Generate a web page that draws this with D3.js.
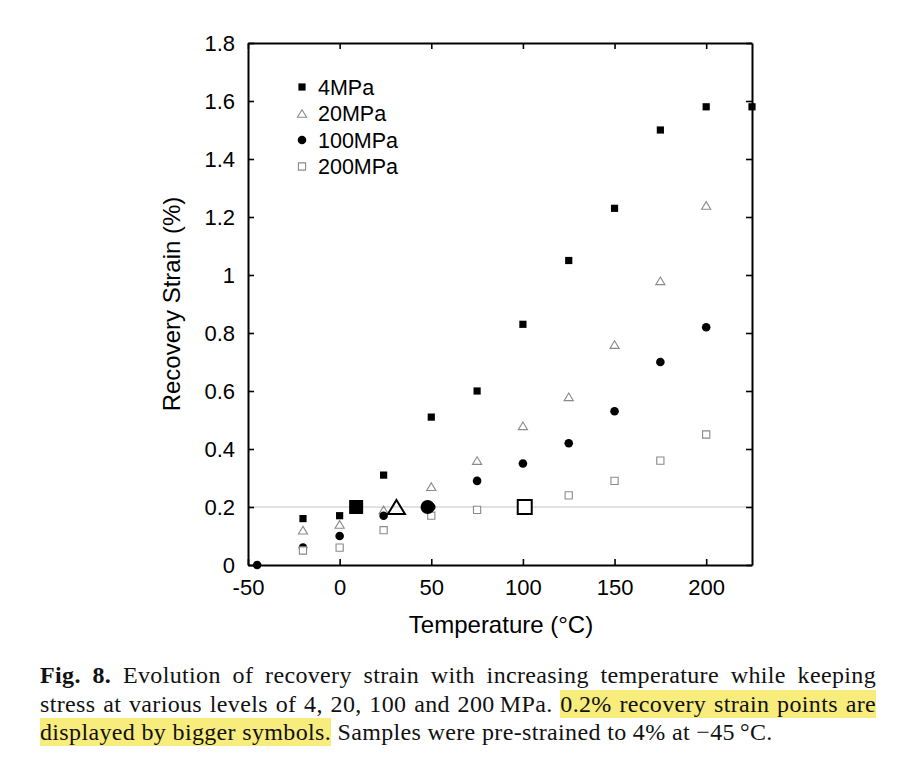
<!DOCTYPE html>
<html>
<head>
<meta charset="utf-8">
<script src="https://cdn.jsdelivr.net/npm/d3@7"></script>
<style>
  body { margin: 0; background: #fff; }
  #chart { position: absolute; left: 0; top: 0; }
  .caption {
    position: absolute;
    left: 40px;
    width: 836px;
    font-family: "Liberation Serif", "Times New Roman", serif;
    font-size: 24px;
    letter-spacing: 0.35px;
    line-height: 26px;
    color: #111;
    white-space: nowrap;
    text-align: justify;
    text-align-last: justify;
  }
  .caption.last { text-align-last: left; }
  .hl { background: #f7ec7c; padding: 1px 0; }
</style>
</head>
<body>
<div id="chart"></div>
<script>
// temperature (°C) and recovery strain (%) for each stress level
const temps4 = [-20, 0, 24, 50, 75, 100, 125, 150, 175, 200, 225];
const strain4 = [0.16, 0.17, 0.31, 0.51, 0.6, 0.83, 1.05, 1.23, 1.5, 1.58, 1.58];

const temps20 = [-20, 0, 24, 50, 75, 100, 125, 150, 175, 200];
const strain20 = [0.12, 0.14, 0.19, 0.27, 0.36, 0.48, 0.58, 0.76, 0.98, 1.24];

const temps100 = [-45, -20, 0, 24, 50, 75, 100, 125, 150, 175, 200];
const strain100 = [0, 0.06, 0.1, 0.17, 0.2, 0.29, 0.35, 0.42, 0.53, 0.7, 0.82];

const temps200 = [-20, 0, 24, 50, 75, 100, 125, 150, 175, 200];
const strain200 = [0.05, 0.06, 0.12, 0.17, 0.19, 0.2, 0.24, 0.29, 0.36, 0.45];

// 0.2% recovery strain points (bigger symbols), one per stress level
const bigTemps = [9, 31, 48, 101];
const bigStrain = [0.2, 0.2, 0.2, 0.2];

const seriesNames = ["4MPa", "20MPa", "100MPa", "200MPa"];
const xTicks = [-50, 0, 50, 100, 150, 200];
const yTicks = [0, 0.2, 0.4, 0.6, 0.8, 1, 1.2, 1.4, 1.6, 1.8];
const refStrain = 0.2;

const width = 902;
const height = 784;
const plot = { left: 248, right: 752, top: 43, bottom: 565 };
const font = '"Liberation Sans", Arial, sans-serif';

const series = [
  { name: seriesNames[0], t: temps4, s: strain4, shape: "square", fill: "#000", stroke: "none" },
  { name: seriesNames[1], t: temps20, s: strain20, shape: "triangle", fill: "none", stroke: "#8a8a8a" },
  { name: seriesNames[2], t: temps100, s: strain100, shape: "circle", fill: "#000", stroke: "none" },
  { name: seriesNames[3], t: temps200, s: strain200, shape: "square", fill: "#fff", stroke: "#8a8a8a" },
];

// marker path centered on 0,0; r is half the size
function markerPath(shape, r) {
  if (shape === "square") {
    return `M${-r},${-r}H${r}V${r}H${-r}Z`;
  }
  if (shape === "triangle") {
    let w = r * 1.15;
    let h = r * 0.95;
    return `M0,${-h}L${w},${h}L${-w},${h}Z`;
  }
  let p = d3.path();
  p.moveTo(r, 0);
  p.arc(0, 0, r, 0, 2 * Math.PI);
  p.closePath();
  return p.toString();
}

const smallSize = (shape) => (shape === "circle" ? 4.3 : shape === "triangle" ? 4 : 3.6);

const x = d3.scaleLinear().domain([-50, 225]).range([plot.left, plot.right]);
const y = d3.scaleLinear().domain([0, 1.8]).range([plot.bottom, plot.top]);

const svg = d3
  .select("#chart")
  .append("svg")
  .attr("width", width)
  .attr("height", height)
  .style("font-family", font);

svg.append("rect").attr("width", width).attr("height", height).attr("fill", "#fff");

// reference line at 0.2%
svg
  .append("line")
  .attr("x1", plot.left)
  .attr("x2", plot.right)
  .attr("y1", y(refStrain))
  .attr("y2", y(refStrain))
  .attr("stroke", "#c4c4c4")
  .attr("stroke-width", 1.2);

//BEGIN: AXES
const styleAxis = (g) => {
  g.select(".domain").attr("stroke", "#000").attr("stroke-width", 2);
  g.selectAll(".tick line").attr("stroke", "#000").attr("stroke-width", 1.6);
  g.selectAll(".tick text").attr("fill", "#000").attr("font-size", 22).attr("font-family", font);
};

svg
  .append("g")
  .attr("transform", `translate(0,${plot.bottom})`)
  .call(
    d3
      .axisBottom(x)
      .tickValues(xTicks)
      .tickSizeInner(-6)
      .tickSizeOuter(0)
      .tickPadding(14)
      .tickFormat((d) => String(d))
  )
  .call(styleAxis);

svg
  .append("g")
  .attr("transform", `translate(0,${plot.top})`)
  .call(d3.axisTop(x).tickValues(xTicks).tickSizeInner(-6).tickSizeOuter(0).tickFormat(""))
  .call(styleAxis);

svg
  .append("g")
  .attr("transform", `translate(${plot.left},0)`)
  .call(
    d3
      .axisLeft(y)
      .tickValues(yTicks)
      .tickSizeInner(-6)
      .tickSizeOuter(0)
      .tickPadding(13)
      .tickFormat(d3.format("~g"))
  )
  .call(styleAxis);

svg
  .append("g")
  .attr("transform", `translate(${plot.right},0)`)
  .call(d3.axisRight(y).tickValues(yTicks).tickSizeInner(-6).tickSizeOuter(0).tickFormat(""))
  .call(styleAxis);

svg
  .append("text")
  .attr("x", 501)
  .attr("y", 633)
  .attr("text-anchor", "middle")
  .attr("font-size", 24)
  .text("Temperature (°C)");

svg
  .append("text")
  .attr("transform", `translate(180,${(plot.top + plot.bottom) / 2}) rotate(-90)`)
  .attr("text-anchor", "middle")
  .attr("font-size", 24)
  .text("Recovery Strain (%)");
//END: AXES

//BEGIN: POINTS
const points = svg.append("g").attr("class", "points");
series.forEach((ser) => {
  points
    .selectAll(null)
    .data(ser.t.map((t, i) => ({ t: t, s: ser.s[i] })))
    .enter()
    .append("path")
    .attr("d", markerPath(ser.shape, smallSize(ser.shape)))
    .attr("transform", (d) => `translate(${x(d.t)},${y(d.s)})`)
    .attr("fill", ser.fill)
    .attr("stroke", ser.stroke)
    .attr("stroke-width", 1.1);
});

const big = svg.append("g").attr("class", "big-points");
big
  .selectAll("path")
  .data(bigTemps.map((t, i) => ({ t: t, s: bigStrain[i], ser: series[i] })))
  .enter()
  .append("path")
  .attr("d", (d) => markerPath(d.ser.shape, d.ser.shape === "triangle" ? 7.4 : 7))
  .attr("transform", (d) => `translate(${x(d.t)},${y(d.s)})`)
  .attr("fill", (d) => d.ser.fill)
  .attr("stroke", (d) => (d.ser.stroke === "none" ? "none" : "#000"))
  .attr("stroke-width", 2);
//END: POINTS

//BEGIN: LEGEND
const legend = svg
  .append("g")
  .selectAll("g")
  .data(series)
  .enter()
  .append("g")
  .attr("transform", (d, i) => `translate(302,${87 + i * 26.5})`);

legend
  .append("path")
  .attr("d", (d) => markerPath(d.shape, smallSize(d.shape)))
  .attr("fill", (d) => d.fill)
  .attr("stroke", (d) => d.stroke)
  .attr("stroke-width", 1.1);

legend
  .append("text")
  .attr("x", 16)
  .attr("dy", "0.36em")
  .attr("font-size", 21.5)
  .text((d) => d.name);
//END: LEGEND
</script>
<div class="caption" style="top:662px"><b>Fig. 8.</b> Evolution of recovery strain with increasing temperature while keeping</div>
<div class="caption" style="top:691px">stress at various levels of 4, 20, 100 and 200&#8201;MPa. <span class="hl">0.2% recovery strain points are</span></div>
<div class="caption last" style="top:719px"><span class="hl">displayed by bigger symbols.</span> Samples were pre-strained to 4% at &minus;45&#8201;°C.</div>
</body>
</html>
